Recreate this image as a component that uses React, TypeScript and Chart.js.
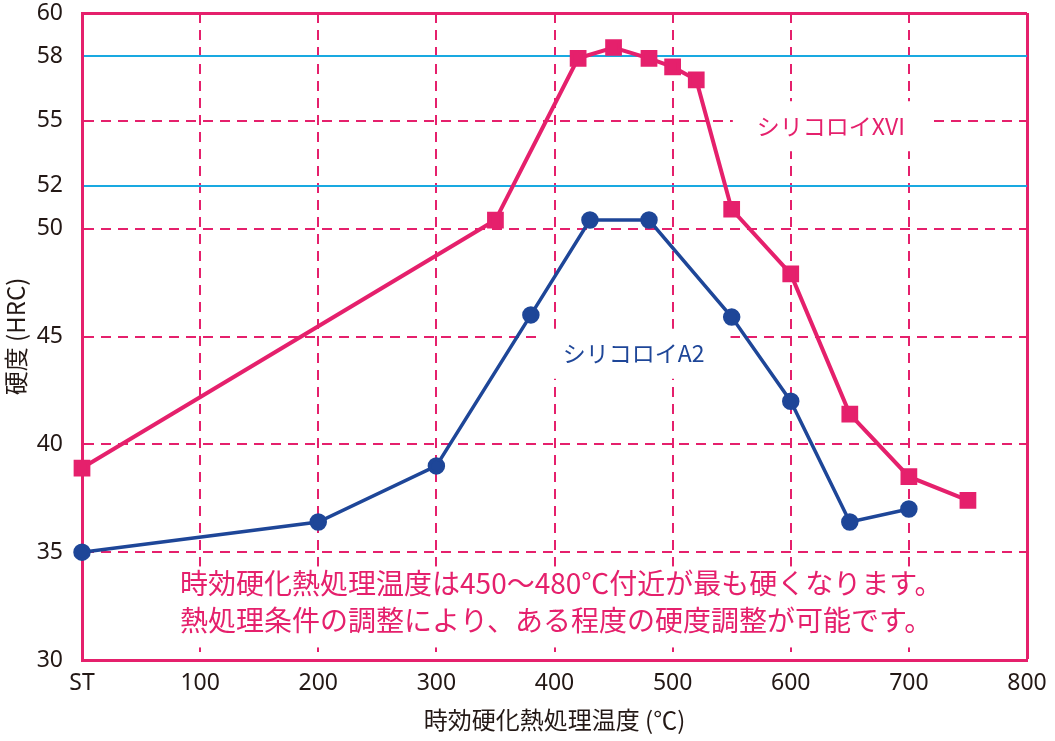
import { useEffect, useRef } from "react";
import { Chart, ChartConfiguration, Plugin, registerables } from "chart.js";

Chart.register(...registerables);

// 時効硬化熱処理温度 (℃), ST = 0
const xviTemps = [0, 350, 420, 450, 480, 500, 520, 550, 600, 650, 700, 750];
const xviHardness = [38.9, 50.4, 57.9, 58.4, 57.9, 57.5, 56.9, 50.9, 47.9, 41.4, 38.5, 37.4];
const a2Temps = [0, 200, 300, 380, 430, 480, 550, 600, 650, 700];
const a2Hardness = [35.0, 36.4, 39.0, 46.0, 50.4, 50.4, 45.9, 42.0, 36.4, 37.0];

const yTicks = [30, 35, 40, 45, 50, 52, 55, 58, 60];
const refLines = [52, 58];
const seriesNames = ["シリコロイXVI", "シリコロイA2"];
const noteLines = [
  "時効硬化熱処理温度は450〜480℃付近が最も硬くなります。",
  "熱処理条件の調整により、ある程度の硬度調整が可能です。",
];
const xTitle = "時効硬化熱処理温度 (℃)";
const yTitle = "硬度 (HRC)";

// where the series names and note sit (in axis units)
const nameAt = [
  { x: 634, y: 54.75 },
  { x: 467, y: 44.2 },
];
const noteAt = { x: 83, y: 33.55 };

const PINK = "#e5206c";
const BLUE = "#1e4698";
const CYAN = "#19a9e1";
const INK = "#231815";
const JP = "'Noto Sans CJK JP', 'Noto Sans', sans-serif";
const LATIN = "'Noto Sans', 'Noto Sans CJK JP', sans-serif";

const labelPlugin: Plugin<"line"> = {
  id: "labelBoxes",
  beforeDatasetsDraw(chart) {
    const { ctx } = chart;
    const x = chart.scales.x;
    const y = chart.scales.y;
    ctx.save();
    ctx.textBaseline = "middle";

    // series names, on white so the grid is cut
    ctx.font = `23px ${JP}`;
    ctx.textAlign = "center";
    seriesNames.forEach((name, i) => {
      const px = x.getPixelForValue(nameAt[i].x);
      const py = y.getPixelForValue(nameAt[i].y);
      const w = ctx.measureText(name).width;
      ctx.fillStyle = "#fff";
      ctx.fillRect(px - w / 2 - 24, py - 25, w + 50, 50);
      ctx.fillStyle = i === 0 ? PINK : BLUE;
      ctx.fillText(name, px, py);
    });

    // note
    ctx.font = `28px ${JP}`;
    ctx.textAlign = "left";
    const nx = x.getPixelForValue(noteAt.x);
    const ny = y.getPixelForValue(noteAt.y);
    const lineGap = 37;
    const widest = Math.max(...noteLines.map((l) => ctx.measureText(l).width));
    ctx.fillStyle = "#fff";
    ctx.fillRect(nx - 10, ny - 17, widest + 20, lineGap * (noteLines.length - 1) + 44);
    ctx.fillStyle = PINK;
    noteLines.forEach((line, i) => ctx.fillText(line, nx, ny + i * lineGap));

    ctx.restore();
  },
};

export default function App() {
  const canvasRef = useRef<HTMLCanvasElement | null>(null);
  const chartRef = useRef<Chart | null>(null);

  useEffect(() => {
    document.body.style.margin = "0";
    if (!canvasRef.current) return;
    chartRef.current?.destroy();

    const config: ChartConfiguration<"line"> = {
      type: "line",
      data: {
        datasets: [
          {
            label: seriesNames[0],
            data: xviTemps.map((t, i) => ({ x: t, y: xviHardness[i] })),
            borderColor: PINK,
            backgroundColor: PINK,
            borderWidth: 4,
            pointStyle: "rect",
            pointRadius: 9,
            pointHoverRadius: 9,
            tension: 0,
            clip: false as any,
          },
          {
            label: seriesNames[1],
            data: a2Temps.map((t, i) => ({ x: t, y: a2Hardness[i] })),
            borderColor: BLUE,
            backgroundColor: BLUE,
            borderWidth: 3.5,
            pointStyle: "circle",
            pointRadius: 7,
            pointHoverRadius: 7,
            tension: 0,
            clip: false as any,
          },
        ],
      },
      options: {
        animation: false,
        responsive: true,
        maintainAspectRatio: false,
        layout: { padding: { top: 9, right: 28, bottom: 0, left: 0 } },
        plugins: {
          legend: { display: false },
          tooltip: { enabled: false },
        },
        scales: {
          x: {
            type: "linear",
            min: 0,
            max: 800,
            afterFit: (scale) => {
              scale.height = 81;
              scale.paddingLeft = 0;
              scale.paddingRight = 0;
            },
            ticks: {
              stepSize: 100,
              autoSkip: false,
              maxRotation: 0,
              padding: 10,
              color: INK,
              font: { family: LATIN, size: 23 },
              callback: (v) => (v === 0 ? "ST" : String(v)),
            },
            grid: {
              drawTicks: false,
              color: (c) => (c.tick && c.tick.value === 0 ? "rgba(0,0,0,0)" : PINK),
              lineWidth: (c) => (c.tick && c.tick.value === 800 ? 3 : 2),
            },
            border: {
              display: true,
              color: PINK,
              width: 3,
              dash: (c: any) => (c.tick && c.tick.value !== 800 ? [10, 7] : []),
            },
            title: {
              display: true,
              text: xTitle,
              color: INK,
              font: { family: JP, size: 24 },
              padding: { top: 0, bottom: 7 },
            },
          },
          y: {
            type: "linear",
            min: 30,
            max: 60,
            afterBuildTicks: (scale) => {
              scale.ticks = yTicks.map((v) => ({ value: v }));
            },
            afterFit: (scale) => {
              scale.width = 82;
              scale.paddingTop = 0;
              scale.paddingBottom = 0;
            },
            ticks: {
              padding: 19,
              color: INK,
              font: { family: LATIN, size: 23 },
            },
            grid: {
              drawTicks: false,
              color: (c) => {
                const v = c.tick ? c.tick.value : 0;
                if (v === 30) return "rgba(0,0,0,0)";
                return refLines.includes(v) ? CYAN : PINK;
              },
              lineWidth: (c) => (c.tick && c.tick.value === 60 ? 3 : 2),
            },
            border: {
              display: true,
              color: PINK,
              width: 3,
              dash: (c: any) =>
                c.tick && !refLines.includes(c.tick.value) && c.tick.value !== 60 ? [10, 7] : [],
            },
            title: {
              display: true,
              text: yTitle,
              color: INK,
              font: { family: JP, size: 24 },
              padding: { top: 1, bottom: 0 },
            },
          },
        },
      },
      plugins: [labelPlugin],
    };

    chartRef.current = new Chart(canvasRef.current, config);

    return () => {
      chartRef.current?.destroy();
      chartRef.current = null;
    };
  }, []);

  return (
    <div style={{ position: "relative", width: 1055, height: 741, background: "#fff" }}>
      <canvas ref={canvasRef} />
    </div>
  );
}
